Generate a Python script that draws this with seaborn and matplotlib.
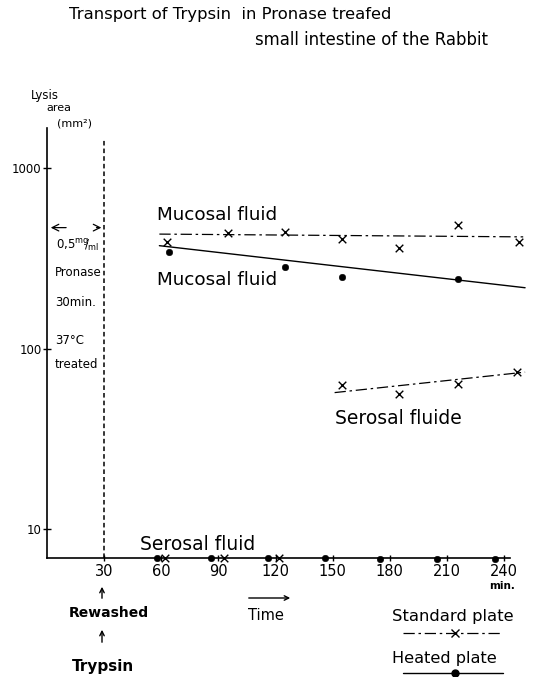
import numpy as np
import pandas as pd
import matplotlib
matplotlib.use("Agg")
import matplotlib.pyplot as plt
import seaborn as sns
from matplotlib.lines import Line2D
from matplotlib.ticker import FixedLocator, FixedFormatter, NullLocator

# ---------------- data ----------------
# Mucosal fluid, standard plate (x)
muc_std_t = [63, 95, 125, 155, 185, 216, 248]
muc_std_v = [390, 438, 443, 405, 361, 484, 390]
muc_std_line_t = [59, 250]
muc_std_line_v = [430, 415]

# Mucosal fluid, heated plate (dots)
muc_heat_t = [64, 125, 155, 216]
muc_heat_v = [344, 281, 250, 244]
muc_heat_line_t = [59, 251]
muc_heat_line_v = [371, 217]

# Serosal fluid (upper), standard plate (x)
ser_std_t = [155, 185, 216, 247]
ser_std_v = [63, 56, 64, 74]
ser_std_line_t = [151, 251]
ser_std_line_v = [57, 74]

# Serosal fluid (bottom, at baseline)
ser_low_heat_t = [58, 86, 116, 146, 175, 205, 235]
ser_low_heat_v = [6.95, 6.95, 6.95, 6.9, 6.85, 6.85, 6.8]
ser_low_std_t = [62, 93, 122]
ser_low_std_v = [6.95, 6.95, 6.95]

x_ticks = [30, 60, 90, 120, 150, 180, 210, 240]
x_ticklabels = ["30", "60", "90", "120", "150", "180", "210", "240"]
y_ticks = [10, 100, 1000]
y_ticklabels = ["10", "100", "1000"]

# ---------------- figure ----------------
W, H = 539, 677
sns.set_theme(style="white")
plt.rcParams["font.family"] = ["DejaVu Sans"]
fig = plt.figure(figsize=(W / 100, H / 100), dpi=100)
fig.patch.set_facecolor("white")

def P(x, y):
    return (x / W, 1 - y / H)

ax_l, ax_r, ax_t, ax_b = 47, 527, 128, 558
ax = fig.add_axes([ax_l / W, 1 - ax_b / H, (ax_r - ax_l) / W, (ax_b - ax_t) / H])
ax.set_facecolor("white")
ax.set_yscale("log")
ax.set_xlim(0, 252)
ax.set_ylim(6.92, 1663)

std_dash = (0, (9, 3, 2, 3))
k = "black"

# mucosal standard
sns.lineplot(x=muc_std_line_t, y=muc_std_line_v, ax=ax, color=k, lw=0.9,
             linestyle=std_dash)
sns.scatterplot(x=muc_std_t, y=muc_std_v, ax=ax, marker="x", s=30, color=k,
                linewidth=1.0)
# mucosal heated
sns.lineplot(x=muc_heat_line_t, y=muc_heat_line_v, ax=ax, color=k, lw=1.0)
sns.scatterplot(x=muc_heat_t, y=muc_heat_v, ax=ax, marker="o", s=22, color=k,
                edgecolor=k)
# serosal standard (upper)
sns.lineplot(x=ser_std_line_t, y=ser_std_line_v, ax=ax, color=k, lw=0.9,
             linestyle=std_dash)
sns.scatterplot(x=ser_std_t, y=ser_std_v, ax=ax, marker="x", s=30, color=k,
                linewidth=1.0)
# serosal at baseline
sns.scatterplot(x=ser_low_heat_t, y=ser_low_heat_v, ax=ax, marker="o", s=22,
                color=k, edgecolor=k, clip_on=False, zorder=5)
sns.scatterplot(x=ser_low_std_t, y=ser_low_std_v, ax=ax, marker="x", s=30,
                color=k, linewidth=1.0, clip_on=False, zorder=5)
for c in ax.collections:
    c.set_clip_on(False)

# vertical dashed line at 30 min
ax.vlines(30, 6.92, 1430, colors=k, linestyles=(0, (3, 2)), lw=1.1)

# axes styling
for s in ["top", "right"]:
    ax.spines[s].set_visible(False)
ax.spines["left"].set_color(k)
ax.spines["bottom"].set_color(k)
ax.spines["left"].set_linewidth(1.2)
ax.spines["bottom"].set_linewidth(1.2)
ax.spines["bottom"].set_bounds(0, 243)

ax.xaxis.set_major_locator(FixedLocator(x_ticks))
ax.xaxis.set_major_formatter(FixedFormatter(x_ticklabels))
ax.yaxis.set_major_locator(FixedLocator(y_ticks))
ax.yaxis.set_major_formatter(FixedFormatter(y_ticklabels))
ax.yaxis.set_minor_locator(NullLocator())
ax.xaxis.set_minor_locator(NullLocator())
ax.tick_params(axis="x", direction="inout", length=5, width=1, colors=k,
               labelsize=10.5, pad=2, bottom=True)
ax.tick_params(axis="y", direction="inout", length=6, width=1, colors=k,
               labelsize=8.5, pad=1, left=True)
ax.set_xlabel("")
ax.set_ylabel("")
ax.grid(False)

# ---------------- texts ----------------
def T(x, y, s, size=10, ha="left", va="center", **kw):
    fig.text(*P(x, y), s, fontsize=size, ha=ha, va=va, color=k, **kw)

T(69, 15, "Transport of Trypsin  in Pronase treafed", size=11.8)
T(255, 40, "small intestine of the Rabbit", size=11.9)

T(31, 96, "Lysis", size=8.5)
T(46, 108, "area", size=8)
T(57, 123, "(mm²)", size=8)

T(56, 246, r"0,5$^{\mathrm{mg}}\!\!/_{\!\mathrm{ml}}$", size=8.5)
T(55, 272, "Pronase", size=8.5)
T(55, 303, "30min.", size=8.5)
T(55, 340, "37°C", size=8.5)
T(55, 364, "treated", size=8.5)

T(157, 215, "Mucosal fluid", size=13.2)
T(157, 280, "Mucosal fluid", size=13.2)
T(335, 418, "Serosal fluide", size=13.5)
T(140, 544, "Serosal fluid", size=13.5)

T(502, 586, "min.", size=7.5, ha="center", fontweight="bold")

# double arrow between axis and 30-min line
arrow_y = 467
ax.annotate("", xy=(0.5, arrow_y), xytext=(11.5, arrow_y),
            arrowprops=dict(arrowstyle="->", color=k, lw=0.9))
ax.annotate("", xy=(30, arrow_y), xytext=(24.5, arrow_y),
            arrowprops=dict(arrowstyle="->", color=k, lw=0.9))

# bottom annotations
fig.add_artist(matplotlib.patches.FancyArrowPatch(P(102, 601), P(102, 584),
               transform=fig.transFigure, arrowstyle="->", mutation_scale=8,
               color=k, lw=1.0))
T(109, 613, "Rewashed", size=10, ha="center", fontweight="bold")
fig.add_artist(matplotlib.patches.FancyArrowPatch(P(102, 645), P(102, 627),
               transform=fig.transFigure, arrowstyle="->", mutation_scale=8,
               color=k, lw=1.0))
T(103, 667, "Trypsin", size=11, ha="center", fontweight="bold")

fig.add_artist(matplotlib.patches.FancyArrowPatch(P(246, 598), P(293, 598),
               transform=fig.transFigure, arrowstyle="->", mutation_scale=8,
               color=k, lw=1.0))
T(266, 615, "Time", size=10.5, ha="center")

# legend
T(392, 617, "Standard plate", size=11.8)
fig.add_artist(Line2D([403 / W, 503 / W], [1 - 633 / H, 1 - 633 / H],
                      transform=fig.transFigure, color=k, lw=0.9,
                      linestyle=std_dash))
fig.add_artist(Line2D([455 / W], [1 - 633 / H], transform=fig.transFigure,
                      color=k, marker="x", markersize=5.5, mew=1.0, lw=0))
T(392, 658, "Heated plate", size=11.6)
fig.add_artist(Line2D([403 / W, 503 / W], [1 - 673 / H, 1 - 673 / H],
                      transform=fig.transFigure, color=k, lw=1.0))
fig.add_artist(Line2D([455 / W], [1 - 673 / H], transform=fig.transFigure,
                      color=k, marker="o", markersize=5, lw=0))

fig.savefig("out.png", dpi=100, facecolor="white")
